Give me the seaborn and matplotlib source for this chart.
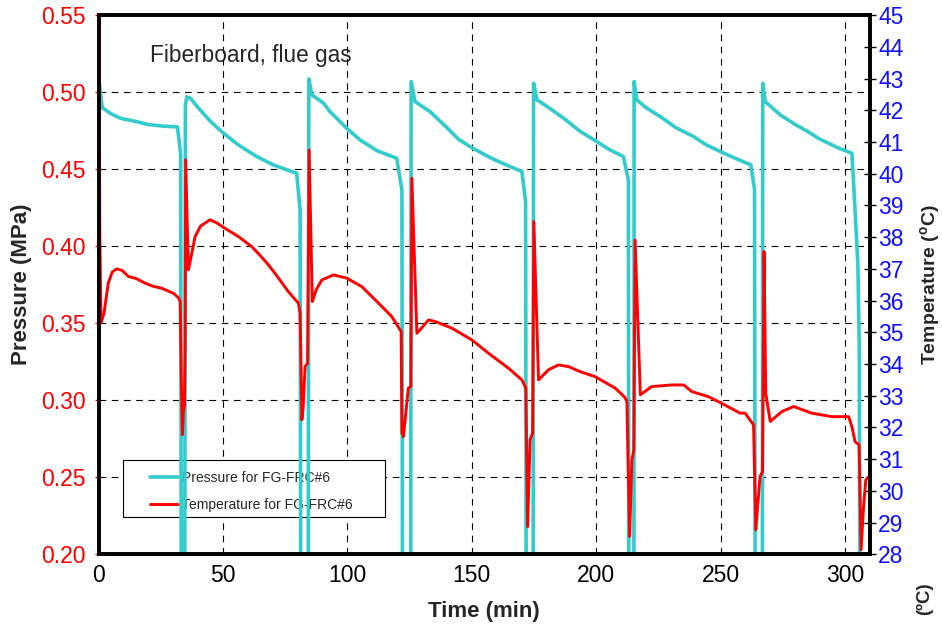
import pandas as pd
import seaborn as sns
import matplotlib.pyplot as plt
from matplotlib.patches import Rectangle
from matplotlib.ticker import FormatStrFormatter

# pressure trace (min, MPa); 0.10 = below the axis floor
time_p = [0.0, 0.3, 1.5, 5, 9, 15, 20, 26, 31.7, 33.0, 33.3,
          34.6, 34.9, 35.5, 37, 40, 45, 50.2, 56, 63.6, 70, 75, 79.6, 81.0, 81.3,
          84.2, 84.5, 85.7, 90.4, 93, 99.7, 105.1, 112, 119.8, 121.9, 122.2,
          125.4, 125.6, 127.2, 133.2, 140, 144.6, 150, 158, 165, 170.1, 171.6, 171.9,
          174.6, 174.8, 176.2, 180, 186.9, 193.6, 200.2, 205, 210.9, 212.9, 213.1,
          215.1, 215.2, 216.3, 220, 225.7, 232, 239.1, 244, 249.8, 256, 262.1, 263.6, 263.9,
          266.7, 266.9, 267.9, 273.9, 280, 286.0, 289.3, 297, 302.7, 303.4, 305.1, 305.7, 306.0]
pressure = [0.10, 0.506, 0.490, 0.486, 0.483, 0.481, 0.479, 0.478, 0.4775, 0.460, 0.10,
            0.10, 0.492, 0.497, 0.496, 0.490, 0.481, 0.4734, 0.466, 0.4582, 0.453, 0.450, 0.4474, 0.4236, 0.10,
            0.10, 0.5087, 0.4983, 0.4929, 0.4874, 0.4766, 0.469, 0.462, 0.4571, 0.4366, 0.10,
            0.10, 0.5069, 0.4939, 0.4874, 0.477, 0.4695, 0.4640, 0.457, 0.452, 0.4485, 0.429, 0.10,
            0.10, 0.5058, 0.495, 0.491, 0.4831, 0.4745, 0.468, 0.463, 0.4582, 0.443, 0.10,
            0.10, 0.5069, 0.495, 0.490, 0.4842, 0.477, 0.4712, 0.466, 0.4615, 0.457, 0.4528, 0.4366, 0.10,
            0.10, 0.5058, 0.4939, 0.4853, 0.479, 0.4735, 0.4700, 0.464, 0.4604, 0.441, 0.389, 0.333, 0.10]

# temperature trace (min, degC)
time_t = [0.0, 0.2, 0.5, 1.0, 2.2, 3.9, 5.5, 7.3, 9.5, 12, 15, 18.7, 22, 25.4, 28, 30.1, 32.0, 32.8,
          33.2, 33.7, 34.1, 34.5, 34.8, 35.0, 36.1, 37.5, 38.8, 41, 44.8, 47.5, 50.2, 56.2, 61.6,
          65, 68, 70.9, 76.3, 80.3, 81.0, 81.7, 82.2, 83.0, 84.0, 84.6, 85.9, 87.5, 89.7, 94.4,
          99.7, 105.8, 112.5, 117.8, 121.0, 121.6, 121.9, 122.5, 124.5, 125.5, 125.9, 127.9, 129.2,
          132.6, 135.3, 142.0, 150.0, 156.7, 164.7, 170.1, 171.7, 172.4, 173.4, 174.4, 174.9,
          176.8, 180.8, 184.8, 188.8, 193.5, 199.6, 207.6, 211.5, 212.3, 213.4, 214.3, 215.1,
          215.6, 217.7, 222.3, 230.4, 235.1, 238.4, 245.1, 250.4, 257.8, 259.8, 263.2, 264.1,
          265.8, 266.8, 267.4, 268.1, 269.9, 274.6, 279.3, 286.6, 294.7, 301.4, 302.7, 304.0,
          305.6, 306.4, 307.4, 308.3, 309.2]
temperature = [29.1, 46.5, 38.2, 35.3, 35.6, 36.55, 36.9, 37.0, 36.95, 36.76, 36.7, 36.55, 36.45, 36.39, 36.3, 36.23, 36.1, 35.97,
               33.71, 31.77, 32.5, 32.7, 34.5, 40.44, 36.97, 37.5, 38.02, 38.35, 38.55, 38.45, 38.31, 38.02, 37.70,
               37.42, 37.15, 36.86, 36.28, 35.92, 35.6, 32.24, 32.6, 33.92, 34.03, 40.75, 35.97, 36.35, 36.65, 36.81,
               36.71, 36.44, 35.92, 35.50, 35.1, 35.02, 31.82, 31.71, 33.24, 33.29, 39.86, 34.97, 35.08,
               35.39, 35.34, 35.13, 34.76, 34.34, 33.87, 33.50, 33.24, 28.87, 31.61, 31.82, 38.49,
               33.50, 33.82, 33.97, 33.92, 33.76, 33.60, 33.24, 32.95, 32.82, 28.56, 30.98, 31.29,
               37.91, 33.03, 33.29, 33.34, 33.34, 33.13, 32.97, 32.76, 32.45, 32.45, 32.08, 28.77,
               30.45, 30.61, 37.55, 33.08, 32.19, 32.50, 32.66, 32.45, 32.34, 32.34, 32.03, 31.55,
               31.45, 28.14, 29.5, 30.34, 30.43]

x_ticks = [0, 50, 100, 150, 200, 250, 300]
p_ticks = [0.20, 0.25, 0.30, 0.35, 0.40, 0.45, 0.50, 0.55]
t_ticks = list(range(28, 46))

CYAN = '#33CCCC'
RED = '#FF0000'

sns.set_style('white')
plt.rcParams['font.family'] = ['Liberation Sans', 'DejaVu Sans']
plt.rcParams['mathtext.fontset'] = 'custom'
plt.rcParams['mathtext.rm'] = 'Liberation Sans'
plt.rcParams['mathtext.bf'] = 'Liberation Sans:bold'

df_p = pd.DataFrame({'time': time_p, 'pressure': pressure})
df_t = pd.DataFrame({'time': time_t, 'temperature': temperature})

fig = plt.figure(figsize=(9.42, 6.29), dpi=100)
ax1 = fig.add_axes([0.1046, 0.1188, 0.819, 0.857])
ax2 = ax1.twinx()

sns.lineplot(data=df_p, x='time', y='pressure', ax=ax1, color=CYAN, linewidth=2.6,
             sort=False, estimator=None, label='Pressure for FG-FRC#6', legend=False)
sns.lineplot(data=df_t, x='time', y='temperature', ax=ax2, color=RED, linewidth=2.1,
             sort=False, estimator=None, label='Temperature for FG-FRC#6', legend=False)

ax1.set_xlim(0, 310)
ax1.set_ylim(0.20, 0.55)
ax2.set_ylim(28, 45)
ax1.set_xticks(x_ticks)
ax1.set_yticks(p_ticks)
ax2.set_yticks(t_ticks)
ax1.yaxis.set_major_formatter(FormatStrFormatter('%.2f'))

ax1.set_axisbelow(True)
ax1.grid(True, color='black', linestyle=(0, (6, 5)), linewidth=0.8)
ax2.grid(False)

for ax in (ax1, ax2):
    for s in ax.spines.values():
        s.set_visible(True)
        s.set_color('black')
        s.set_linewidth(2.6)

ax1.tick_params(axis='y', colors=RED, labelcolor=RED, direction='out', length=3, width=1, labelsize=16.5, pad=6)
ax1.tick_params(axis='x', colors='black', direction='out', length=4, width=1, labelsize=16.5, pad=3)
ax2.tick_params(axis='y', colors='black', labelcolor='#1010FF', direction='inout', length=8, width=1,
                labelsize=16.5, pad=2)

ax1.set_xlabel('Time (min)', fontsize=16, fontweight='bold', labelpad=10)
ax1.set_ylabel('Pressure (MPa)', fontsize=16, fontweight='bold', labelpad=7)
ax2.set_ylabel(r'Temperature ($\mathbf{^{o}}$C)', fontsize=14, fontweight='bold', labelpad=10)

ax1.text(0.067, 0.925, 'Fiberboard, flue gas', transform=ax1.transAxes, fontsize=16.3, ha='left', va='center')

# legend box drawn separately so the traces can pass over it
box = Rectangle((0.0318, 0.0692), 0.3396, 0.1058, transform=ax1.transAxes, facecolor='white',
                edgecolor='black', linewidth=0.8, zorder=1)
ax1.add_patch(box)
h1, l1 = ax1.get_legend_handles_labels()
h2, l2 = ax2.get_legend_handles_labels()
leg = ax1.legend(h1 + h2, l1 + l2, loc='center left', bbox_to_anchor=(0.0668, 0.1165), fontsize=10,
                 frameon=False, borderpad=0, labelspacing=0.95, handlelength=2.0, handletextpad=0.3,
                 borderaxespad=0)
leg.set_zorder(1.2)

fig.text(0.981, 0.048, '(ºC)', rotation=90, fontsize=13.5, fontweight='bold', ha='center', va='center')

fig.savefig('out.png', dpi=100)
